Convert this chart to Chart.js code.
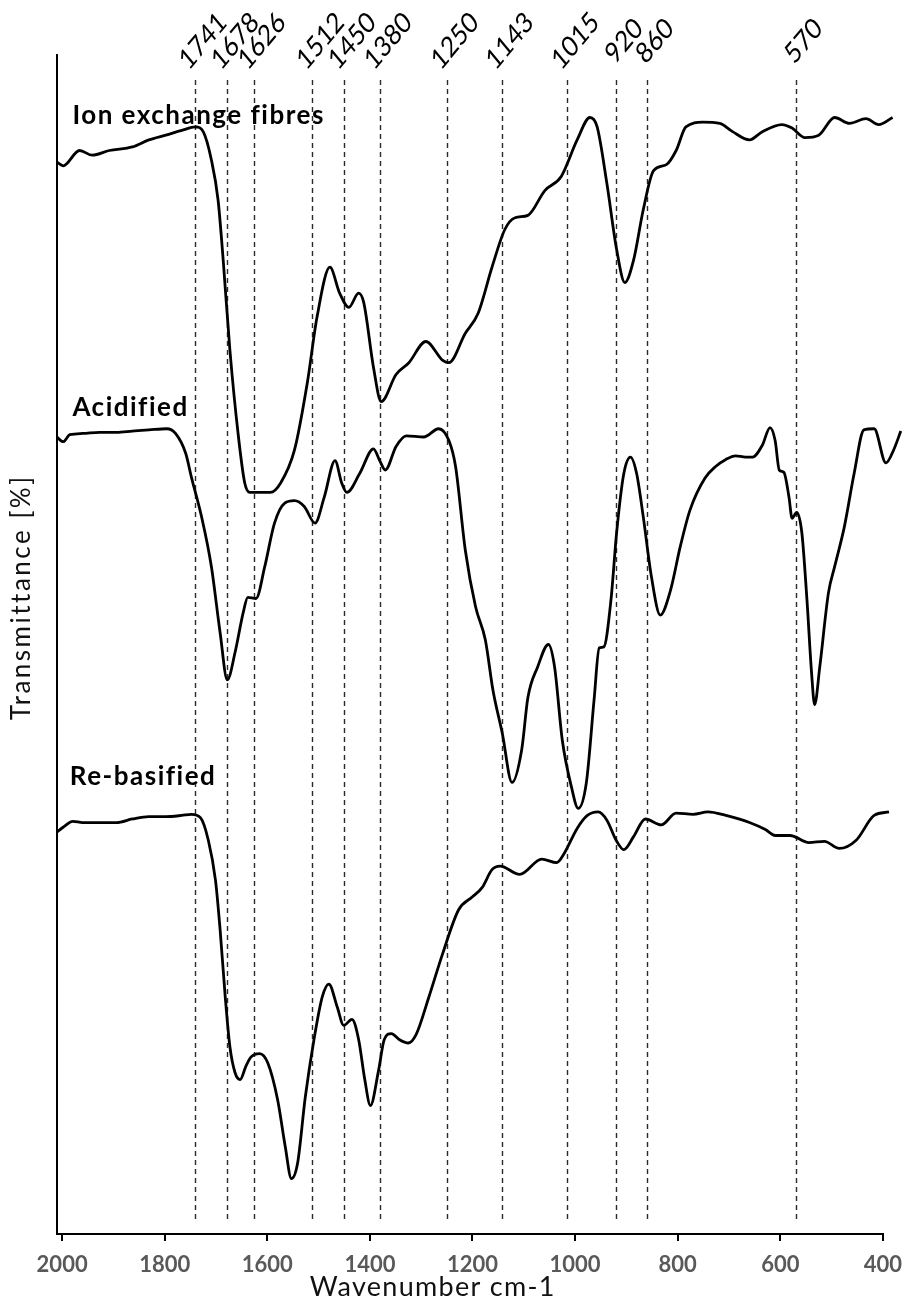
<!DOCTYPE html>
<html>
<head>
<meta charset="utf-8">
<script src="https://cdn.jsdelivr.net/npm/chart.js@4.4.1/dist/chart.umd.min.js"></script>
<style>
  html, body { margin: 0; padding: 0; background: #fff; }
  #wrap { width: 913px; height: 1303px; }
</style>
</head>
<body>
<div id="wrap"><canvas id="ftir" width="913" height="1303"></canvas></div>
<script>
// FTIR spectra: wavenumber (cm-1) / transmittance (%), curves stacked with offsets
var fibresWn = [2010,1998,1966,1941,1908,1863,1831,1798,1767,1740,1725,1709,1696,1686,1673,1657,1644,1634,1594,1574,
    1547,1522,1503,1478,1459,1441,1422,1412,1393,1378,1349,1324,1291,1258,1246,1214,1189,1162,1137,1117,
    1092,1059,1027,996,971,957,938,919,903,886,867,847,822,803,784,751,718,693,660,635,597,577,552,525,494,465,433,408,381];
var fibresT = [90.9,90.6,91.9,91.5,91.9,92.2,92.8,93.2,93.6,93.9,93.5,91.1,87.7,82.6,75.0,67.9,63.7,62.9,62.9,63.7,
    66.5,72.2,77.8,82.0,79.8,78.6,79.8,79.0,73.5,70.6,72.9,73.9,75.7,74.1,73.9,76.4,78.1,82.0,85.2,86.2,
    86.4,88.5,89.7,92.8,94.7,93.9,89.1,83.5,80.7,82.6,86.9,90.2,90.7,91.9,93.9,94.3,94.2,93.5,92.8,93.5,94.1,93.8,93.0,93.2,94.7,94.2,94.6,94.1,94.7];

var acidWn = [2010,1998,1985,1960,1927,1894,1863,1831,1796,1779,1759,1748,1728,1709,1692,1678,1663,1647,1638,1622,
    1605,1586,1566,1547,1528,1507,1489,1468,1455,1445,1420,1393,1381,1370,1349,1329,1295,1266,1246,1233,
    1214,1194,1175,1160,1142,1123,1104,1092,1073,1052,1040,1025,1007,994,978,963,953,944,930,919,
    905,892,880,867,851,834,814,795,776,747,726,706,687,668,654,635,620,610,602,593,
    583,577,568,558,548,539,533,523,506,494,475,456,437,417,394,379,365];
var acidT = [67.6,67.2,67.8,67.9,68.0,68.0,68.1,68.2,68.3,67.9,66.2,64.2,60.8,56.6,51.0,47.0,49.3,52.7,54.0,53.9,
    56.6,60.3,62.0,62.2,61.7,60.3,62.5,65.6,63.7,62.9,64.5,66.6,65.6,64.8,66.8,67.7,67.6,68.3,67.3,65.1,
    58.0,53.2,50.4,46.1,42.5,38.3,41.1,45.5,48.1,50.0,48.1,41.9,37.9,36.1,38.3,45.3,49.7,49.8,53.8,59.5,
    64.5,65.9,64.5,60.8,55.7,52.5,54.6,58.3,61.4,64.1,65.1,65.7,66.0,65.9,65.9,66.9,68.4,67.3,64.8,64.6,
    62.5,60.7,61.2,59.5,53.8,47.6,44.9,48.1,54.4,56.6,60.0,64.5,68.2,68.3,65.4,66.5,68.1];

var rebasWn = [2010,1998,1979,1960,1927,1894,1863,1831,1798,1767,1748,1730,1715,1701,1692,1682,1673,1663,1653,1642,
    1632,1615,1599,1580,1565,1553,1541,1526,1509,1493,1480,1464,1451,1435,1422,1410,1399,1383,1372,1358,
    1343,1325,1310,1285,1258,1227,1200,1181,1162,1146,1108,1065,1036,1021,996,976,955,938,920,905,
    886,863,832,803,770,741,706,660,629,610,581,544,514,485,452,417,388];
var rebasT = [34.1,34.5,35.0,34.9,34.9,34.9,35.2,35.4,35.4,35.5,35.6,35.3,33.4,30.0,25.8,20.1,15.9,13.7,13.1,14.2,
    15.0,15.3,14.5,11.4,7.4,4.7,6.0,11.6,16.5,20.1,21.2,19.3,17.7,18.2,16.5,13.1,10.9,13.9,16.5,17.0,
    16.5,16.2,16.9,20.1,23.8,27.5,28.6,29.4,30.9,31.2,30.5,31.8,31.5,32.3,34.4,35.5,35.8,35.1,33.4,32.6,
    33.7,35.2,34.7,35.7,35.6,35.8,35.5,34.9,34.3,33.8,33.8,33.2,33.3,32.7,33.4,35.5,35.8];

var seriesNames = ["Ion exchange fibres", "Acidified", "Re-basified"];
var bandLabels = [1741, 1678, 1626, 1512, 1450, 1380, 1250, 1143, 1015, 920, 860, 570];
var xTicks = [2000, 1800, 1600, 1400, 1200, 1000, 800, 600, 400];
var xTitle = "Wavenumber cm-1";
var yTitle = "Transmittance [%]";

// where the curve names sit (wavenumber, transmittance)
var namePos = [[1980, 94.9], [1980, 70.1], [1985, 38.8]];

var fam = "Lato, 'Open Sans', sans-serif";

function toPoints(wn, t) {
    var pts = [];
    for (var i = 0; i < wn.length; i++) pts.push({x: wn[i], y: t[i]});
    return pts;
}

function serie(label, wn, t) {
    return {
        label: label,
        data: toPoints(wn, t),
        borderColor: '#000',
        borderWidth: 2.8,
        pointRadius: 0,
        fill: false,
        cubicInterpolationMode: 'monotone',
        clip: false
    };
}

var bandas = {
    id: 'bandas',
    beforeDatasetsDraw: function(chart) {
        var ctx = chart.ctx, xs = chart.scales.x, area = chart.chartArea;
        ctx.save();
        ctx.strokeStyle = '#2a2a2a';
        ctx.lineWidth = 1.4;
        ctx.setLineDash([5, 4]);
        bandLabels.forEach(function(b) {
            var px = Math.round(xs.getPixelForValue(b)) + 0.5;
            ctx.beginPath();
            ctx.moveTo(px, area.top + 25);
            ctx.lineTo(px, area.bottom - 11);
            ctx.stroke();
        });
        ctx.restore();
    },
    afterDatasetsDraw: function(chart) {
        var ctx = chart.ctx, xs = chart.scales.x, ys = chart.scales.y, area = chart.chartArea;
        ctx.save();
        ctx.fillStyle = '#000';

        // band positions, slanted, above the plot
        ctx.font = "24px " + fam;
        ctx.textAlign = 'center';
        ctx.textBaseline = 'middle';
        bandLabels.forEach(function(b) {
            var px = xs.getPixelForValue(b);
            ctx.save();
            ctx.translate(px + 8, 41);
            ctx.scale(1, 1.2);
            ctx.rotate(-Math.PI / 4);
            ctx.fillText(String(b), 0, 0);
            ctx.restore();
        });

        // curve names
        ctx.font = "bold 26px " + fam;
        ctx.letterSpacing = '1.5px';
        ctx.textAlign = 'left';
        for (var i = 0; i < seriesNames.length; i++) {
            ctx.fillText(seriesNames[i], xs.getPixelForValue(namePos[i][0]), ys.getPixelForValue(namePos[i][1]));
        }

        // axis titles
        ctx.fillStyle = '#111';
        ctx.textAlign = 'center';
        ctx.font = "27px " + fam;
        ctx.letterSpacing = '1.3px';
        ctx.fillText(xTitle, area.left + (area.right - area.left) * 0.455, 1287);

        ctx.font = "26px " + fam;
        ctx.letterSpacing = '2.5px';
        ctx.save();
        ctx.translate(22, area.top + (area.bottom - area.top) * 0.46);
        ctx.rotate(-Math.PI / 2);
        ctx.fillText(yTitle, 0, 0);
        ctx.restore();

        ctx.restore();
    }
};

var chart = new Chart(document.getElementById('ftir').getContext('2d'), {
    type: 'line',
    data: {
        datasets: [
            serie(seriesNames[0], fibresWn, fibresT),
            serie(seriesNames[1], acidWn, acidT),
            serie(seriesNames[2], rebasWn, rebasT)
        ]
    },
    options: {
        responsive: false,
        animation: false,
        devicePixelRatio: 1,
        layout: { padding: { top: 55, right: 21, left: 0, bottom: 0 } },
        plugins: {
            legend: { display: false },
            tooltip: { enabled: false }
        },
        scales: {
            x: {
                type: 'linear',
                reverse: true,
                min: 400,
                max: 2010,
                afterBuildTicks: function(s) {
                    s.ticks = xTicks.map(function(v) { return {value: v}; });
                },
                afterFit: function(s) { s.height = 69; },
                grid: { display: true, drawOnChartArea: false, drawTicks: true, tickLength: 7, color: '#000', lineWidth: 2 },
                border: { display: true, color: '#000', width: 2 },
                ticks: {
                    padding: 11,
                    color: '#595959',
                    font: { family: fam, size: 22, weight: 'bold' },
                    maxRotation: 0,
                    autoSkip: false,
                    callback: function(v) { return String(v); }
                },
                title: { display: false }
            },
            y: {
                type: 'linear',
                min: 0,
                max: 100,
                afterFit: function(s) { s.width = 57; },
                grid: { display: false },
                border: { display: true, color: '#000', width: 2 },
                ticks: { display: false },
                title: { display: false }
            }
        }
    },
    plugins: [bandas]
});
</script>
</body>
</html>
